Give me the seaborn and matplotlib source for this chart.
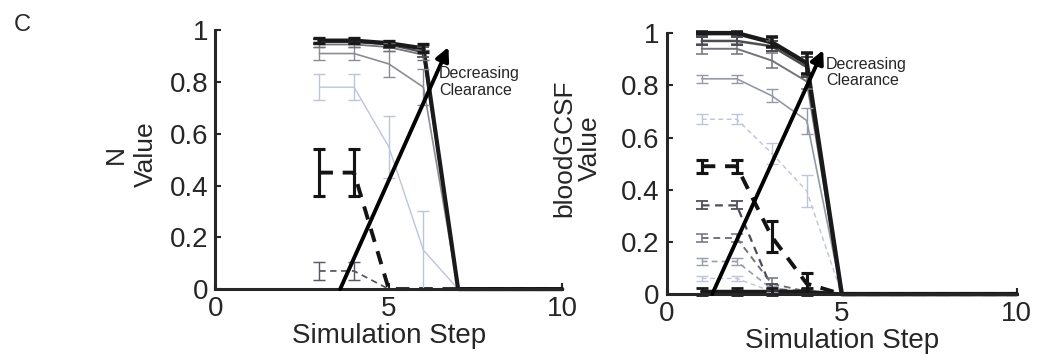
import numpy as np
import pandas as pd
import matplotlib
matplotlib.use("Agg")
import matplotlib.pyplot as plt
import seaborn as sns

sns.set_style("ticks")
plt.rcParams["font.family"] = ["Liberation Sans", "DejaVu Sans"]

# ---- Panel 1: N ----
n_steps = [3, 4, 5, 6, 7, 8, 9, 10]
n_series = {
    "n_c5": [0.78, 0.78, 0.55, 0.15, 0, 0, 0, 0],
    "n_c4": [0.91, 0.91, 0.87, 0.78, 0, 0, 0, 0],
    "n_c3": [0.945, 0.945, 0.935, 0.905, 0, 0, 0, 0],
    "n_c2": [0.955, 0.955, 0.945, 0.915, 0, 0, 0, 0],
    "n_c1": [0.96, 0.96, 0.95, 0.93, 0, 0, 0, 0],
    "n_d2": [0.07, 0.07, 0, 0, 0, 0, 0, 0],
    "n_d1": [0.45, 0.45, 0, 0, 0, 0, 0, 0],
}
n_err = {
    "n_c5": [0.05, 0.05, 0.12, 0.15, 0, 0, 0, 0],
    "n_c4": [0.025, 0.025, 0.05, 0.07, 0, 0, 0, 0],
    "n_c3": [0.01, 0.01, 0.015, 0.02, 0, 0, 0, 0],
    "n_c2": [0.01, 0.01, 0.015, 0.02, 0, 0, 0, 0],
    "n_c1": [0.01, 0.01, 0.01, 0.015, 0, 0, 0, 0],
    "n_d2": [0.035, 0.035, 0, 0, 0, 0, 0, 0],
    "n_d1": [0.09, 0.09, 0, 0, 0, 0, 0, 0],
}

# ---- Panel 2: bloodGCSF ----
g_steps = [1, 2, 3, 4, 5, 6, 7, 8, 9, 10]
g_series = {
    "g_d5": [0.06, 0.06, 0.01, 0, 0, 0, 0, 0, 0, 0],
    "g_d4": [0.125, 0.125, 0.02, 0, 0, 0, 0, 0, 0, 0],
    "g_d3": [0.215, 0.215, 0.04, 0.01, 0, 0, 0, 0, 0, 0],
    "g_d2": [0.34, 0.34, 0.02, 0.01, 0, 0, 0, 0, 0, 0],
    "g_c5": [0.67, 0.67, 0.54, 0.395, 0, 0, 0, 0, 0, 0],
    "g_c4": [0.825, 0.825, 0.76, 0.665, 0, 0, 0, 0, 0, 0],
    "g_c3": [0.94, 0.94, 0.895, 0.815, 0, 0, 0, 0, 0, 0],
    "g_c2": [0.97, 0.97, 0.95, 0.87, 0, 0, 0, 0, 0, 0],
    "g_c1": [1.0, 1.0, 0.965, 0.885, 0, 0, 0, 0, 0, 0],
    "g_z": [0.01, 0.01, 0.01, 0.01, 0, 0, 0, 0, 0, 0],
    "g_d1": [0.49, 0.49, 0.22, 0.04, 0, 0, 0, 0, 0, 0],
}
g_err = {
    "g_d5": [0.01, 0.01, 0.01, 0, 0, 0, 0, 0, 0, 0],
    "g_d4": [0.012, 0.012, 0.01, 0, 0, 0, 0, 0, 0, 0],
    "g_d3": [0.015, 0.015, 0.02, 0.01, 0, 0, 0, 0, 0, 0],
    "g_d2": [0.015, 0.015, 0.02, 0.01, 0, 0, 0, 0, 0, 0],
    "g_c5": [0.02, 0.02, 0.04, 0.06, 0, 0, 0, 0, 0, 0],
    "g_c4": [0.015, 0.015, 0.025, 0.05, 0, 0, 0, 0, 0, 0],
    "g_c3": [0.02, 0.02, 0.03, 0.03, 0, 0, 0, 0, 0, 0],
    "g_c2": [0.015, 0.015, 0.02, 0.04, 0, 0, 0, 0, 0, 0],
    "g_c1": [0.005, 0.005, 0.02, 0.04, 0, 0, 0, 0, 0, 0],
    "g_z": [0.015, 0.015, 0.015, 0.015, 0, 0, 0, 0, 0, 0],
    "g_d1": [0.025, 0.025, 0.06, 0.04, 0, 0, 0, 0, 0, 0],
}

# line appearance per series: colour, width, dashed
look = {
    "n_c5": ((0.74, 0.77, 0.86), 1.0, False),
    "n_c4": ((0.55, 0.55, 0.58), 1.2, False),
    "n_c3": ((0.45, 0.45, 0.48), 1.3, False),
    "n_c2": ((0.30, 0.30, 0.32), 1.6, False),
    "n_c1": ((0.10, 0.10, 0.10), 3.0, False),
    "n_d2": ((0.35, 0.35, 0.38), 1.3, True),
    "n_d1": ((0.08, 0.08, 0.08), 2.8, True),
    "g_d5": ((0.75, 0.77, 0.85), 1.0, True),
    "g_d4": ((0.60, 0.62, 0.68), 1.2, True),
    "g_d3": ((0.45, 0.45, 0.50), 1.4, True),
    "g_d2": ((0.30, 0.30, 0.34), 1.6, True),
    "g_c5": ((0.74, 0.77, 0.86), 1.0, True),
    "g_c4": ((0.58, 0.60, 0.66), 1.2, False),
    "g_c3": ((0.45, 0.45, 0.48), 1.4, False),
    "g_c2": ((0.30, 0.30, 0.32), 1.8, False),
    "g_c1": ((0.10, 0.10, 0.10), 3.2, False),
    "g_z": ((0.10, 0.10, 0.10), 2.5, False),
    "g_d1": ((0.08, 0.08, 0.08), 2.8, True),
}


def long_frame(steps, series):
    rows = []
    for name, vals in series.items():
        for s, v in zip(steps, vals):
            rows.append({"step": s, "value": v, "series": name})
    return pd.DataFrame(rows)


def draw_panel(ax, steps, series, errs, ylabel, arrow, text_xy, label_xy, lsp):
    df = long_frame(steps, series)
    names = list(series.keys())
    sns.lineplot(
        data=df, x="step", y="value", hue="series", size="series", style="series",
        hue_order=names, size_order=names, style_order=names,
        palette={k: look[k][0] for k in names},
        sizes={k: look[k][1] for k in names},
        dashes={k: ((3.5, 2.5) if look[k][2] else "") for k in names},
        legend=False, ax=ax, clip_on=False,
    )
    for name in names:
        col, lw, _ = look[name]
        v = np.array(series[name])
        e = np.array(errs[name])
        keep = e > 0
        ax.errorbar(np.array(steps)[keep], v[keep], yerr=e[keep], fmt="none",
                    ecolor=col, elinewidth=max(lw * 0.8, 1.0), capsize=4,
                    capthick=max(lw * 0.8, 1.0), clip_on=False)

    ax.annotate("", xy=arrow[1], xytext=arrow[0],
                arrowprops=dict(arrowstyle="-|>", color="black", lw=2.8,
                                mutation_scale=20, shrinkA=0, shrinkB=0))
    ax.text(text_xy[0], text_xy[1], "Decreasing\nClearance", fontsize=11.5,
            ha="left", va="top", linespacing=1.1)

    ax.set_xlim(0, 10)
    ax.set_ylim(0, 1)
    ax.set_xticks([0, 5, 10])
    ax.set_xticklabels(["0", "5", "10"])
    ax.set_yticks([0, 0.2, 0.4, 0.6, 0.8, 1])
    ax.set_yticklabels(["0", "0.2", "0.4", "0.6", "0.8", "1"])
    ax.tick_params(direction="in", length=4, width=1.5, labelsize=20, pad=5)
    for sp in ("left", "bottom"):
        ax.spines[sp].set_linewidth(2.2)
    sns.despine(ax=ax)
    ax.set_xlabel("Simulation Step", fontsize=20, labelpad=1)
    ax.set_ylabel(ylabel, fontsize=19, linespacing=lsp)
    ax.yaxis.set_label_coords(*label_xy)


fig = plt.figure(figsize=(10.45, 3.6), dpi=100)
ax1 = fig.add_axes([0.206, 0.197, 0.332, 0.719])
ax2 = fig.add_axes([0.638, 0.183, 0.335, 0.725])

draw_panel(ax1, n_steps, n_series, n_err, "N\nValue",
           ((3.6, 0.0), (6.72, 0.935)), (6.45, 0.86), (-0.165, 0.52), 1.3)
draw_panel(ax2, g_steps, g_series, g_err, "bloodGCSF\nValue",
           ((1.3, 0.0), (4.47, 0.935)), (4.55, 0.91), (-0.185, 0.56), 1.1)

fig.text(0.013, 0.915, "C", fontsize=17)

fig.savefig("out.png", dpi=100)
